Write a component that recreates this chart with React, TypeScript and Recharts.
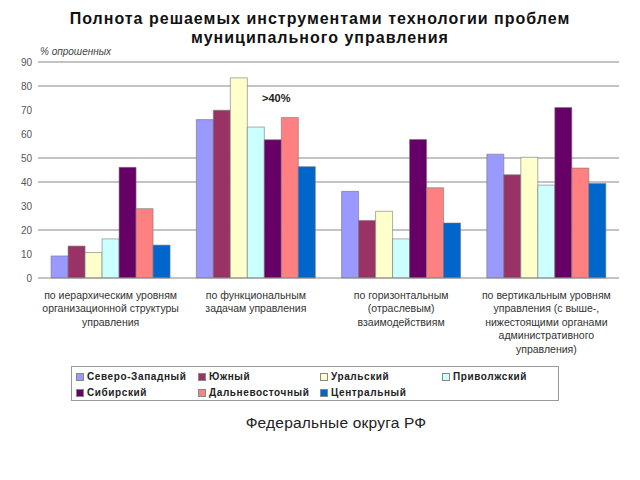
import { Bar, BarChart, CartesianGrid, XAxis, YAxis } from 'recharts'

const categories = [
  'по иерархическим уровням\nорганизационной структуры\nуправления',
  'по функциональным\nзадачам управления',
  'по горизонтальным\n(отраслевым)\nвзаимодействиям',
  'по вертикальным уровням\nуправления (с выше-,\nнижестоящими органами\nадминистративного\nуправления)',
]

const seriesNames = [
  'Северо-Западный',
  'Южный',
  'Уральский',
  'Приволжский',
  'Сибирский',
  'Дальневосточный',
  'Центральный',
]
const seriesColors = ['#9999FF', '#993366', '#FFFFCC', '#CCFFFF', '#660066', '#FF8080', '#0066CC']

const northWest = [9.2, 66.0, 36.1, 51.6]
const south = [13.3, 69.9, 24.0, 43.0]
const ural = [10.6, 83.4, 27.8, 50.3]
const volga = [16.3, 62.9, 16.3, 38.7]
const siberia = [46.1, 57.6, 57.7, 71.0]
const farEast = [28.9, 66.9, 37.6, 45.8]
const central = [13.7, 46.4, 22.9, 39.4]

const seriesValues = [northWest, south, ural, volga, siberia, farEast, central]
const yTicks = [0, 10, 20, 30, 40, 50, 60, 70, 80, 90]
const gridValues = [20, 40, 50, 80, 90]

const data = categories.map((name, i) => {
  const row: Record<string, string | number> = { name }
  seriesNames.forEach((s, j) => {
    row[s] = seriesValues[j][i]
  })
  return row
})

const font = '"Liberation Sans", Arial, sans-serif'

function CategoryTick({ x, y, payload }: any) {
  const lines = String(payload.value).split('\n')
  return (
    <text x={x} y={y} textAnchor="middle" fill="#333" fontSize={10.5} fontFamily={font}>
      {lines.map((l, i) => (
        <tspan key={i} x={x} dy={i === 0 ? 12.5 : 13.5}>
          {l}
        </tspan>
      ))}
    </text>
  )
}

export default function App() {
  return (
    <div style={{ position: 'absolute', left: 0, top: 0, width: 640, height: 480, background: '#fff', fontFamily: font }}>
      <div
        style={{
          position: 'absolute',
          left: 0,
          top: 9,
          width: 640,
          textAlign: 'center',
          fontWeight: 'bold',
          fontSize: 16,
          lineHeight: '19px',
          letterSpacing: 1,
          color: '#111',
        }}
      >
        Полнота решаемых инструментами технологии проблем
        <br />
        муниципального управления
      </div>
      <div style={{ position: 'absolute', left: 40, top: 46, fontSize: 10, fontStyle: 'italic', color: '#444' }}>
        % опрошенных
      </div>
      <BarChart
        width={640}
        height={380}
        data={data}
        margin={{ top: 62, right: 21, bottom: 2, left: 0 }}
        barCategoryGap="9%"
        barGap={0}
        style={{ position: 'absolute', left: 0, top: 0 }}
      >
        <CartesianGrid vertical={false} horizontalValues={gridValues} stroke="#888" />
        <XAxis
          dataKey="name"
          height={100}
          axisLine={{ stroke: '#888' }}
          tickLine={false}
          interval={0}
          tick={<CategoryTick />}
        />
        <YAxis
          width={38}
          domain={[0, 90]}
          ticks={yTicks}
          axisLine={false}
          tickLine={false}
          tickMargin={0}
          tick={{ fill: '#555', fontSize: 10, fontFamily: font }}
        />
        {seriesNames.map((s, j) => (
          <Bar
            key={s}
            dataKey={s}
            fill={seriesColors[j]}
            stroke="#777"
            strokeWidth={0.6}
            isAnimationActive={false}
          />
        ))}
      </BarChart>
      <div style={{ position: 'absolute', left: 262, top: 92, fontSize: 11, fontWeight: 'bold', color: '#222' }}>
        &gt;40%
      </div>
      <div
        style={{
          position: 'absolute',
          left: 71,
          top: 366,
          width: 488,
          height: 35,
          border: '1px solid #999',
          boxSizing: 'border-box',
        }}
      >
        {seriesNames.map((s, j) => (
          <div
            key={s}
            style={{
              position: 'absolute',
              left: 4 + (j % 4) * 122,
              top: j < 4 ? 4 : 20,
              display: 'flex',
              alignItems: 'center',
              fontSize: 10,
              fontWeight: 'bold',
              letterSpacing: 0.6,
              color: '#222',
              whiteSpace: 'nowrap',
            }}
          >
            <span
              style={{
                display: 'inline-block',
                width: 6,
                height: 6,
                background: seriesColors[j],
                border: '1px solid #888',
                marginRight: 3,
              }}
            />
            {s}
          </div>
        ))}
      </div>
      <div
        style={{
          position: 'absolute',
          left: 0,
          top: 414,
          width: 672,
          textAlign: 'center',
          fontSize: 15.5,
          letterSpacing: 0.2,
          color: '#222',
        }}
      >
        Федеральные округа РФ
      </div>
    </div>
  )
}
